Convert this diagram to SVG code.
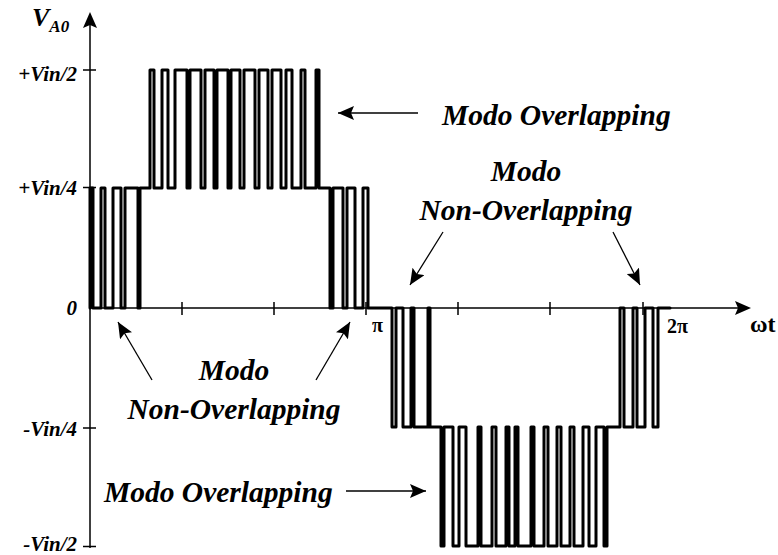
<svg xmlns="http://www.w3.org/2000/svg" width="778" height="555" viewBox="0 0 778 555">
<style>
.ax{stroke:#000;stroke-width:1.5;fill:none}
.wave{stroke:#000;stroke-width:3;fill:none;stroke-linejoin:round;stroke-linecap:round}
.lead{stroke:#000;stroke-width:1.3;fill:none}
.lbl{font-family:"Liberation Serif","Times New Roman",serif;font-weight:bold;font-style:italic;fill:#000}
.up{font-family:"Liberation Serif","Times New Roman",serif;font-weight:bold;fill:#000}
.big{font-size:29.5px}
</style>
<defs>
<marker id="ah" markerUnits="userSpaceOnUse" markerWidth="18" markerHeight="14" refX="16" refY="7" orient="auto">
<path d="M0,0 L16,7 L0,14 L3,7 z" fill="#000"/>
</marker>
</defs>
<rect width="778" height="555" fill="#fff"/>
<g id="axes">
<path class="ax" d="M90,548 V24"/>
<path d="M90,12 L83,28 L90,25 L97,28 z" fill="#000"/>
<path class="ax" d="M90,308 H738"/>
<path d="M751,308 L735,301 L738,308 L735,315 z" fill="#000"/>
<path class="ax" d="M83,70 H96 M83,187.5 H96 M83,428 H96 M83,546.5 H96"/>
<path class="ax" d="M182,302 V315 M274,302 V315 M366,302 V315 M458,302 V315 M550,302 V315 M643,302 V315"/>
</g>
<g id="axis-labels">
<text class="lbl" x="32" y="26" font-size="26">V<tspan font-size="17" dy="6">A0</tspan></text>
<text class="lbl" x="77" y="81" font-size="21" text-anchor="end">+Vin/2</text>
<text class="lbl" x="77" y="195" font-size="21" text-anchor="end">+Vin/4</text>
<text class="lbl" x="77" y="315" font-size="21" text-anchor="end">0</text>
<text class="lbl" x="77" y="436" font-size="21" text-anchor="end">-Vin/4</text>
<text class="lbl" x="77" y="551" font-size="21" text-anchor="end">-Vin/2</text>
<text class="up" x="372" y="332" font-size="20">π</text>
<text class="up" x="667" y="333" font-size="20">2π</text>
<text class="up" x="750" y="332" font-size="24">ωt</text>
</g>
<g id="waveform">
<path class="wave" d="M90,308 V188 H93 V308 H101 V188 H105 V308 H113 V188 H121 V308 H125 V188 H138 V308 H140 V188 H150 V70 H154 V188 H162 V70 H168 V188 H175 V70 H187 V188 H190 V70 H201 V188 H205 V70 H214 V188 H217 V70 H228 V188 H231 V70 H240 V188 H244 V70 H255 V188 H259 V70 H268 V188 H272 V70 H281 V188 H286 V70 H292 V188 H301 V70 H305 V188 H316 V70 H319 V188 H330 V308 H333 V188 H343 V308 H347 V188 H355 V308 H363 V188 H368 V308 H392 V427 H396 V308 H403 V427 H411 V308 H414 V427 H428 V308 H430 V427 H441 V546 H444 V427 H453 V546 H459 V427 H466 V546 H478 V427 H481 V546 H492 V427 H496 V546 H506 V427 H509 V546 H515 V427 H518 V546 H531 V427 H534 V546 H544 V427 H548 V546 H557 V427 H561 V546 H570 V427 H574 V546 H583 V427 H589 V546 H596 V427 H604 V546 H607 V427 H620 V308 H624 V427 H633 V308 H637 V427 H645 V308 H653 V427 H658 V308 H670"/>
</g>
<g id="connectors">
<path class="lead" d="M418,113 H338" marker-end="url(#ah)"/>
<path class="lead" d="M346,491 H426" marker-end="url(#ah)"/>
<path class="lead" d="M443,232 L410,285" marker-end="url(#ah)"/>
<path class="lead" d="M613,232 L640,285" marker-end="url(#ah)"/>
<path class="lead" d="M152,380 L118,322" marker-end="url(#ah)"/>
<path class="lead" d="M316,380 L350,322" marker-end="url(#ah)"/>
</g>
<g id="label-overlap-top"><text class="lbl big" x="442" y="125">Modo Overlapping</text></g>
<g id="label-nonoverlap-top">
<text class="lbl big" x="526" y="181" text-anchor="middle">Modo</text>
<text class="lbl big" x="526" y="220" text-anchor="middle">Non-Overlapping</text>
</g>
<g id="label-nonoverlap-bottom">
<text class="lbl big" x="234" y="380" text-anchor="middle">Modo</text>
<text class="lbl big" x="234" y="419" text-anchor="middle">Non-Overlapping</text>
</g>
<g id="label-overlap-bottom"><text class="lbl big" x="104" y="502">Modo Overlapping</text></g>
</svg>
